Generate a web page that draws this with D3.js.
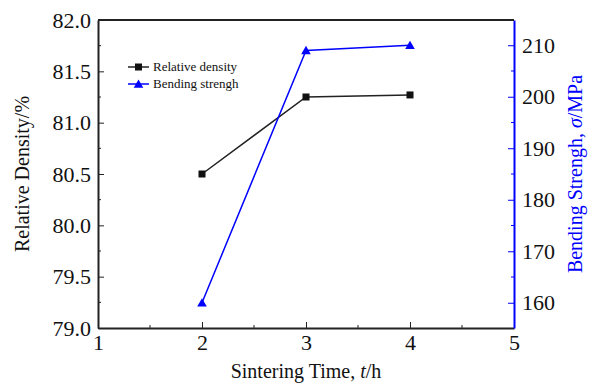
<!DOCTYPE html>
<html>
<head>
<meta charset="utf-8">
<script src="https://cdn.jsdelivr.net/npm/d3@7"></script>
<style>
  body { margin: 0; background: #fff; }
  svg text { font-family: "Liberation Serif", "Times New Roman", serif; }
</style>
</head>
<body>
<div id="chart"></div>
<script>
let width = 592,
    height = 388;

let times = [2, 3, 4];
let density = [80.5, 81.25, 81.27];
let strength = [160, 209, 210];
let xTicks = [1, 2, 3, 4, 5];
let leftTicks = [79.0, 79.5, 80.0, 80.5, 81.0, 81.5, 82.0];
let rightTicks = [160, 170, 180, 190, 200, 210];

let serif = "Liberation Serif, Times New Roman, serif";
let m = { left: 98, right: 78, top: 20, bottom: 60 };
let x0 = m.left, x1 = width - m.right, y0 = height - m.bottom, y1 = m.top;

let svg = d3.select("#chart").append("svg")
    .attr("width", width)
    .attr("height", height)
    .attr("font-family", serif);

let x = d3.scaleLinear().domain([1, 5]).range([x0, x1]);
let yL = d3.scaleLinear().domain([79, 82]).range([y0, y1]);
let yR = d3.scaleLinear().domain([155.1, 214.9]).range([y0, y1]);

// bottom axis
let xAxis = svg.append("g")
    .attr("transform", "translate(0," + y0 + ")")
    .call(d3.axisBottom(x).tickValues(xTicks).tickFormat(d3.format("d")).tickSizeInner(-6).tickSizeOuter(0).tickPadding(6));
xAxis.append("g").selectAll("line")
    .data(d3.range(1.5, 5, 1))
    .enter().append("line")
    .attr("x1", d => x(d)).attr("x2", d => x(d))
    .attr("y1", 0).attr("y2", -3)
    .attr("stroke", "#222");

// left axis
let lAxis = svg.append("g")
    .attr("transform", "translate(" + x0 + ",0)")
    .call(d3.axisLeft(yL).tickValues(leftTicks).tickFormat(d3.format(".1f")).tickSizeInner(-6).tickSizeOuter(0).tickPadding(7));
lAxis.append("g").selectAll("line")
    .data(d3.range(79.25, 82, 0.5))
    .enter().append("line")
    .attr("y1", d => yL(d)).attr("y2", d => yL(d))
    .attr("x1", 0).attr("x2", 3)
    .attr("stroke", "#222");

// right axis
let rAxis = svg.append("g")
    .attr("transform", "translate(" + x1 + ",0)")
    .call(d3.axisRight(yR).tickValues(rightTicks).tickFormat(d3.format("d")).tickSizeInner(-6).tickSizeOuter(0).tickPadding(8));
rAxis.append("g").selectAll("line")
    .data(d3.range(165, 215, 10))
    .enter().append("line")
    .attr("y1", d => yR(d)).attr("y2", d => yR(d))
    .attr("x1", 0).attr("x2", -3)
    .attr("stroke", "blue");

[xAxis, lAxis, rAxis].forEach(g => g.attr("font-family", serif).attr("font-size", 22));
svg.selectAll(".domain").attr("stroke-width", 2);
xAxis.selectAll(".domain, .tick line").attr("stroke", "#222");
lAxis.selectAll(".domain, .tick line").attr("stroke", "#222");
rAxis.selectAll(".domain, .tick line").attr("stroke", "blue");
svg.selectAll(".tick text").attr("fill", "#111");

// top border
svg.append("line")
    .attr("x1", x0).attr("x2", x1)
    .attr("y1", y1).attr("y2", y1)
    .attr("stroke", "#222").attr("stroke-width", 2);

// density line
let lineL = d3.line().x((d, i) => x(times[i])).y(d => yL(d));
svg.append("path")
    .datum(density)
    .attr("d", lineL)
    .attr("fill", "none")
    .attr("stroke", "#222")
    .attr("stroke-width", 1.5);
svg.selectAll(".sq")
    .data(density)
    .enter().append("rect")
    .attr("x", (d, i) => x(times[i]) - 3.5)
    .attr("y", d => yL(d) - 3.5)
    .attr("width", 7).attr("height", 7)
    .attr("fill", "#111");

// strength line
let lineR = d3.line().x((d, i) => x(times[i])).y(d => yR(d));
svg.append("path")
    .datum(strength)
    .attr("d", lineR)
    .attr("fill", "none")
    .attr("stroke", "blue")
    .attr("stroke-width", 1.5);
let tri = d3.symbol().type(d3.symbolTriangle).size(40);
svg.selectAll(".tri")
    .data(strength)
    .enter().append("path")
    .attr("d", tri)
    .attr("transform", (d, i) => "translate(" + x(times[i]) + "," + (yR(d) + 1) + ")")
    .attr("fill", "blue");

// legend
let legend = svg.append("g").attr("transform", "translate(128,67)");
legend.append("line").attr("x1", 0).attr("x2", 21).attr("y1", 0).attr("y2", 0)
    .attr("stroke", "#222").attr("stroke-width", 1.5);
legend.append("rect").attr("x", 7).attr("y", -3.5).attr("width", 7).attr("height", 7).attr("fill", "#111");
legend.append("text").attr("x", 25).attr("y", 4).attr("font-size", 13).attr("fill", "#111").text("Relative density");
legend.append("line").attr("x1", 0).attr("x2", 21).attr("y1", 17).attr("y2", 17)
    .attr("stroke", "blue").attr("stroke-width", 1.5);
legend.append("path").attr("d", tri).attr("transform", "translate(10.5,18)").attr("fill", "blue");
legend.append("text").attr("x", 25).attr("y", 21).attr("font-size", 13).attr("fill", "#111").text("Bending strengh");

// axis titles
let xt = svg.append("text")
    .attr("x", (x0 + x1) / 2).attr("y", 378)
    .attr("text-anchor", "middle").attr("font-size", 20).attr("fill", "#111");
xt.append("tspan").text("Sintering Time, ");
xt.append("tspan").attr("font-style", "italic").text("t");
xt.append("tspan").text("/h");

svg.append("text")
    .attr("transform", "translate(29," + ((y0 + y1) / 2) + ") rotate(-90)")
    .attr("text-anchor", "middle").attr("font-size", 20).attr("fill", "#111")
    .text("Relative Density/%");

let rt = svg.append("text")
    .attr("transform", "translate(582," + ((y0 + y1) / 2) + ") rotate(-90)")
    .attr("text-anchor", "middle").attr("font-size", 20).attr("fill", "blue");
rt.append("tspan").text("Bending Strengh, ");
rt.append("tspan").attr("font-style", "italic").text("σ");
rt.append("tspan").text("/MPa");
</script>
</body>
</html>
